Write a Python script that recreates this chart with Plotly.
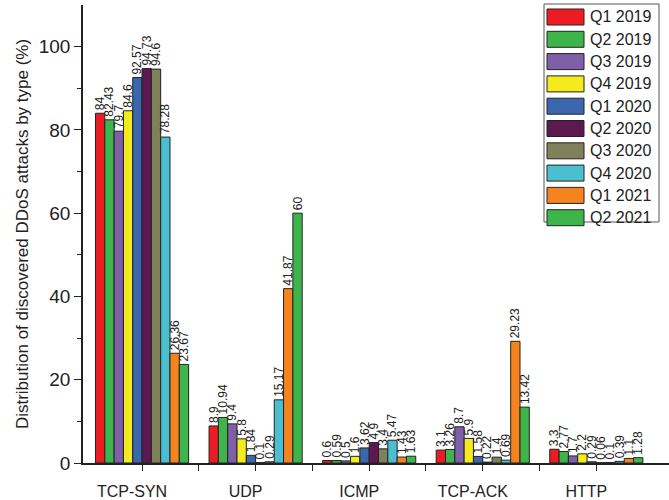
import plotly.graph_objects as go

categories = ["TCP-SYN", "UDP", "ICMP", "TCP-ACK", "HTTP"]
quarters = ["Q1 2019", "Q2 2019", "Q3 2019", "Q4 2019", "Q1 2020",
            "Q2 2020", "Q3 2020", "Q4 2020", "Q1 2021", "Q2 2021"]

# share of each attack type per quarter, %  (order: TCP-SYN, UDP, ICMP, TCP-ACK, HTTP)
q1_2019 = [84, 8.9, 0.6, 3.1, 3.3]
q2_2019 = [82.43, 10.94, 0.59, 3.26, 2.77]
q3_2019 = [79.7, 9.4, 0.5, 8.7, 1.7]
q4_2019 = [84.6, 5.8, 1.6, 5.9, 2.2]
q1_2020 = [92.57, 1.84, 3.62, 1.58, 0.29]
q2_2020 = [94.73, 0.1, 4.9, 0.22, 0.06]
q3_2020 = [94.6, 0.29, 3.4, 1.4, 0.1]
q4_2020 = [78.28, 15.17, 5.47, 0.69, 0.39]
q1_2021 = [26.36, 41.87, 1.43, 29.23, 1.1]
q2_2021 = [23.67, 60, 1.63, 13.42, 1.28]

series = [q1_2019, q2_2019, q3_2019, q4_2019, q1_2020,
          q2_2020, q3_2020, q4_2020, q1_2021, q2_2021]
colors = ["#ED1C24", "#3DB54A", "#7F5FA8", "#F4EB1F", "#3A67B0",
          "#5B1950", "#80805A", "#4BBFD0", "#F5841F", "#3DB54A"]

FONT = "Liberation Sans, Arial, sans-serif"
xpos = list(range(len(categories)))

fig = go.Figure()
for name, vals, col in zip(quarters, series, colors):
    fig.add_trace(go.Bar(
        x=xpos, y=vals, name=name,
        marker=dict(color=col, line=dict(color="#222222", width=1)),
        text=[f"{v:g}" for v in vals],
        textposition="outside", textangle=-90,
        constraintext="none", cliponaxis=False,
        textfont=dict(family=FONT, size=12, color="#222222"),
        showlegend=False,
    ))

# legend box with large swatches (paper coordinates)
PLOT_L, PLOT_R, PLOT_T, PLOT_B = 83, 669, 5, 463


def px_x(px):
    return (px - PLOT_L) / (PLOT_R - PLOT_L)


def px_y(py):
    return (PLOT_B - py) / (PLOT_B - PLOT_T)


fig.add_shape(type="rect", xref="paper", yref="paper",
              x0=px_x(544), x1=px_x(659), y0=px_y(222), y1=px_y(4),
              line=dict(color="#555555", width=1), fillcolor="white")
for i, (name, col) in enumerate(zip(quarters, colors)):
    top = 9 + 22.3 * i
    fig.add_shape(type="rect", xref="paper", yref="paper",
                  x0=px_x(547), x1=px_x(584), y0=px_y(top + 16), y1=px_y(top),
                  line=dict(color="#222222", width=1), fillcolor=col)
    fig.add_annotation(xref="paper", yref="paper", x=px_x(588), y=px_y(top + 8),
                       text=name, showarrow=False, xanchor="left", yanchor="middle",
                       font=dict(family=FONT, size=16, color="#222222"))

fig.update_layout(
    width=669, height=500,
    margin=dict(l=PLOT_L, r=669 - PLOT_R, t=PLOT_T, b=500 - PLOT_B),
    paper_bgcolor="white", plot_bgcolor="white",
    barmode="group", bargap=0.18, bargroupgap=0,
    font=dict(family=FONT, color="#222222"),
)
fig.update_xaxes(
    range=[-0.52, 4.64], tickvals=xpos, ticktext=categories,
    showgrid=False, zeroline=False, showline=True, linecolor="#222222", linewidth=1.5,
    ticks="outside", ticklen=6, tickcolor="#222222",
    ticklabelshift=-10, ticklabelstandoff=7,
    tickfont=dict(family=FONT, size=16, color="#222222"),
    minor=dict(tickvals=[0.5, 1.5, 2.5, 3.5], ticks="outside", ticklen=6,
               tickcolor="#222222"),
)
fig.update_yaxes(
    range=[0, 110], tickvals=[0, 20, 40, 60, 80, 100],
    showgrid=False, zeroline=False, showline=True, linecolor="#222222", linewidth=1.5,
    ticks="outside", ticklen=7, tickcolor="#222222",
    tickfont=dict(family=FONT, size=19, color="#222222"),
    minor=dict(tickvals=[10, 30, 50, 70, 90], ticks="outside", ticklen=4,
               tickcolor="#222222"),
    title=dict(text="Distribution of discovered DDoS attacks by type (%)",
               font=dict(family=FONT, size=17, color="#222222"), standoff=6),
)

fig.write_html("out.html")
